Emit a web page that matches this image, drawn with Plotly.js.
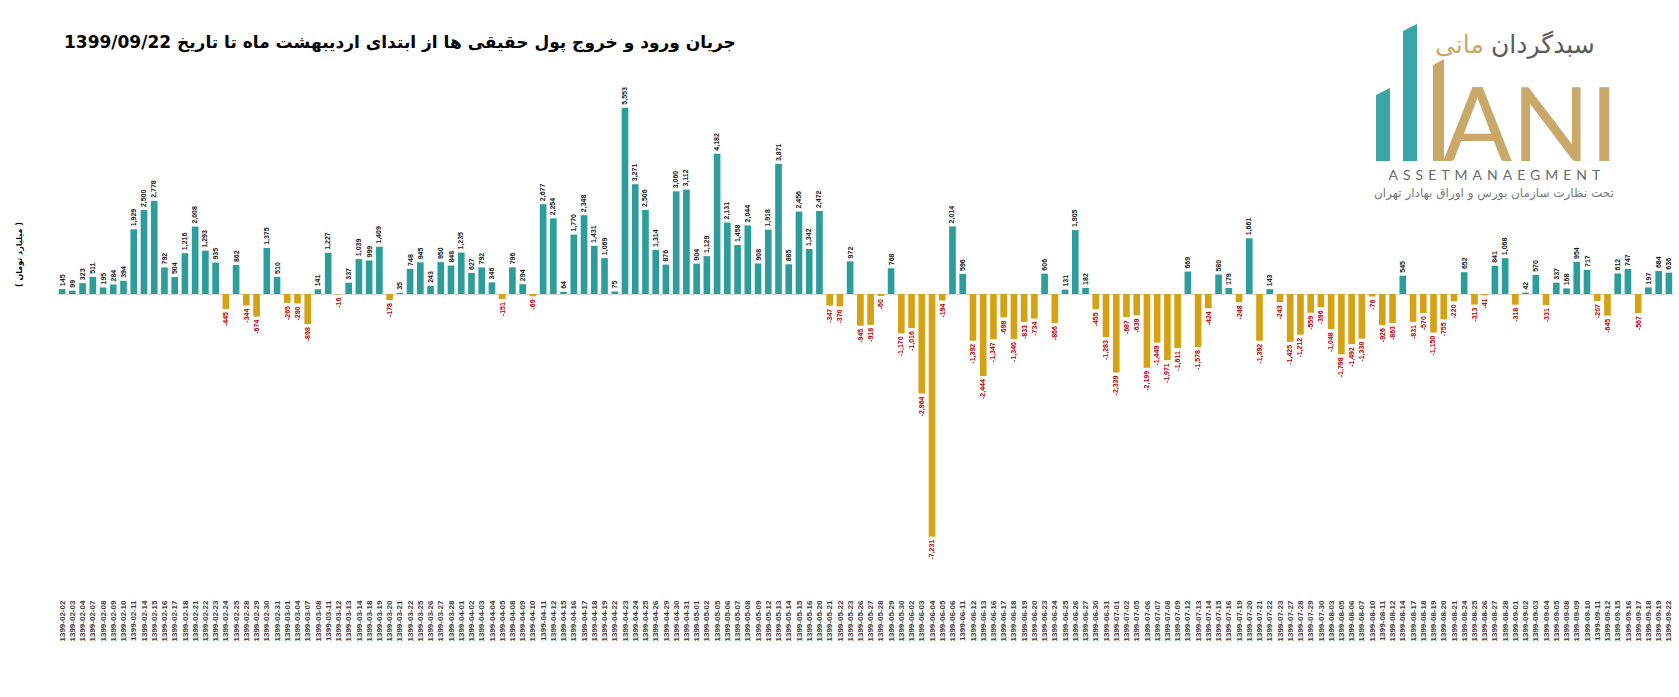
<!DOCTYPE html>
<html>
<head>
<meta charset="utf-8">
<script src="https://cdn.plot.ly/plotly-3.0.1.min.js"></script>
<style>
html, body { margin: 0; padding: 0; background: #fff; }
#chart { width: 1679px; height: 697px; }
g.annotation[data-index="4"] text.annotation-text { letter-spacing: 5px; }
</style>
</head>
<body>
<div id="chart"></div>
<script>
// trading days (1399) and net real-money flow, billion toman
const dates = [
  '1399-02-02','1399-02-03','1399-02-04','1399-02-07','1399-02-08','1399-02-09','1399-02-10','1399-02-11','1399-02-14','1399-02-15',
  '1399-02-16','1399-02-17','1399-02-18','1399-02-21','1399-02-22','1399-02-23','1399-02-24','1399-02-25','1399-02-28','1399-02-29',
  '1399-02-30','1399-02-31','1399-03-01','1399-03-04','1399-03-07','1399-03-08','1399-03-11','1399-03-12','1399-03-13','1399-03-14',
  '1399-03-18','1399-03-19','1399-03-20','1399-03-21','1399-03-22','1399-03-25','1399-03-26','1399-03-27','1399-03-28','1399-04-01',
  '1399-04-02','1399-04-03','1399-04-04','1399-04-05','1399-04-08','1399-04-09','1399-04-10','1399-04-11','1399-04-12','1399-04-15',
  '1399-04-16','1399-04-17','1399-04-18','1399-04-19','1399-04-22','1399-04-23','1399-04-24','1399-04-25','1399-04-26','1399-04-29',
  '1399-04-30','1399-04-31','1399-05-01','1399-05-02','1399-05-05','1399-05-06','1399-05-07','1399-05-08','1399-05-09','1399-05-12',
  '1399-05-13','1399-05-14','1399-05-15','1399-05-16','1399-05-20','1399-05-21','1399-05-22','1399-05-23','1399-05-26','1399-05-27',
  '1399-05-28','1399-05-29','1399-05-30','1399-06-02','1399-06-03','1399-06-04','1399-06-05','1399-06-06','1399-06-11','1399-06-12',
  '1399-06-13','1399-06-16','1399-06-17','1399-06-18','1399-06-19','1399-06-20','1399-06-23','1399-06-24','1399-06-25','1399-06-26',
  '1399-06-27','1399-06-30','1399-06-31','1399-07-01','1399-07-02','1399-07-05','1399-07-06','1399-07-07','1399-07-08','1399-07-09',
  '1399-07-12','1399-07-13','1399-07-14','1399-07-15','1399-07-16','1399-07-19','1399-07-20','1399-07-21','1399-07-22','1399-07-23',
  '1399-07-27','1399-07-28','1399-07-29','1399-07-30','1399-08-03','1399-08-05','1399-08-06','1399-08-07','1399-08-10','1399-08-11',
  '1399-08-12','1399-08-14','1399-08-17','1399-08-18','1399-08-19','1399-08-20','1399-08-21','1399-08-24','1399-08-25','1399-08-26',
  '1399-08-27','1399-08-28','1399-09-01','1399-09-02','1399-09-03','1399-09-04','1399-09-05','1399-09-08','1399-09-09','1399-09-10',
  '1399-09-11','1399-09-12','1399-09-15','1399-09-16','1399-09-17','1399-09-18','1399-09-19','1399-09-22'
];
const flows = [
  145, 99, 323, 511, 195, 284, 394, 1929, 2500, 2778,
  792, 504, 1216, 2008, 1293, 935, -445, 862, -344, -674,
  1375, 510, -265, -280, -898, 141, 1227, -16, 337, 1039,
  999, 1409, -178, 35, 748, 945, 243, 950, 848, 1235,
  627, 792, 346, -151, 796, 294, -69, 2677, 2254, 64,
  1770, 2348, 1431, 1069, 75, 5553, 3271, 2506, 1314, 876,
  3060, 3112, 904, 1129, 4182, 2131, 1458, 2044, 908, 1918,
  3871, 885, 2456, 1342, 2472, -347, -370, 972, -945, -918,
  -60, 768, -1170, -1016, -2964, -7231, -194, 2014, 596, -1392,
  -2444, -1347, -698, -1340, -833, -734, 606, -866, 131, 1905,
  182, -455, -1283, -2339, -687, -639, -2199, -1449, -1971, -1611,
  669, -1578, -424, 580, 179, -248, 1661, -1392, 143, -243,
  -1425, -1212, -559, -396, -1048, -1798, -1492, -1330, -76, -926,
  -863, 545, -831, -570, -1150, -755, -220, 652, -313, -41,
  841, 1068, -318, 42, 570, -331, 337, 168, 954, 717,
  -207, -645, 612, 747, -567, 197, 684, 636
];

const titleText = 'جریان ورود و خروج پول حقیقی ها از ابتدای اردیبهشت ماه تا تاریخ 1399/09/22';
const unitText = '( میلیارد تومان )';

const TEAL = '#2c9d9a', GOLD = '#d4a213';
const W = 1679, H = 697, L = 57, R = 5, T = 90, B = 99;
const pw = W - L - R, ph = H - T - B;
const px = v => (v - L) / pw;
const py = v => (H - B - v) / ph;
const perPx = 29.8, zeroY = 294;

const bars = {
    x: dates,
    y: flows,
    type: 'bar',
    marker: { color: flows.map(v => v >= 0 ? TEAL : GOLD) },
    text: flows.map(v => v.toLocaleString('en-US')),
    textposition: 'outside',
    textangle: -90,
    constraintext: 'none',
    cliponaxis: false,
    textfont: {
        family: 'Liberation Sans, Arial, sans-serif',
        size: 7,
        weight: 'bold',
        color: flows.map(v => v >= 0 ? '#1a1a1a' : '#c00000')
    },
    hoverinfo: 'x+y'
};

function slab(x0, x1, top, slant, color) {
    return {
        type: 'path', xref: 'paper', yref: 'paper',
        path: `M ${px(x0)},${py(161)} L ${px(x0)},${py(top + slant)} L ${px(x1)},${py(top)} L ${px(x1)},${py(161)} Z`,
        fillcolor: color, line: { width: 0 }
    };
}

function note(text, x, y, font, xanchor) {
    return {
        text: text, xref: 'paper', yref: 'paper', x: px(x), y: py(y),
        xanchor: xanchor || 'center', yanchor: 'middle', showarrow: false, font: font
    };
}

Plotly.newPlot('chart', [bars], {
    width: W, height: H,
    paper_bgcolor: '#ffffff',
    plot_bgcolor: '#ffffff',
    showlegend: false,
    bargap: 0.35,
    margin: { l: L, r: R, t: T, b: B, pad: 0 },
    title: {
        text: titleText,
        font: { family: 'DejaVu Sans, sans-serif', size: 17, weight: 'bold', color: '#000' },
        xref: 'container', yref: 'container',
        x: 64 / W, xanchor: 'left', y: 1 - 42 / H, yanchor: 'middle'
    },
    xaxis: {
        type: 'category',
        tickmode: 'array', tickvals: dates, ticktext: dates,
        tickangle: -90,
        tickfont: { family: 'Liberation Sans, Arial, sans-serif', size: 8, weight: 'bold', color: '#404040' },
        showline: false, showgrid: false, ticks: '', zeroline: false,
        range: [-0.5, dates.length - 0.5]
    },
    yaxis: {
        range: [-(H - B - zeroY) * perPx, (zeroY - T) * perPx],
        showticklabels: false, showgrid: false, showline: false, ticks: '',
        zeroline: true, zerolinecolor: '#d9d9d9', zerolinewidth: 1
    },
    shapes: [
        slab(1376, 1390, 88, 7, '#3ba5a5'),
        slab(1403, 1417, 24, 7, '#3ba5a5'),
        slab(1433, 1444, 59, 6, '#c9a86a')
    ],
    annotations: [
        note(unitText, 19, 255, { family: 'DejaVu Sans, sans-serif', size: 8, weight: 'bold', color: '#000' }),
        note('ANI', 1531, 121, { family: 'Liberation Sans Narrow, Lato, sans-serif', size: 102, color: '#c9a86a' }),
        note('سبدگردان', 1597, 45, { family: 'DejaVu Sans, sans-serif', size: 25, color: '#5a5a5a' }, 'right'),
        note('مانی', 1433, 45, { family: 'DejaVu Sans, sans-serif', size: 25, color: '#c9a86a' }, 'left'),
        note('ASSETMANAEGMENT', 1497, 174, { family: 'Lato, sans-serif', size: 14, color: '#6a6a6a' }),
        note('تحت نظارت سازمان بورس و اوراق بهادار تهران', 1494, 193, { family: 'DejaVu Sans, sans-serif', size: 12, color: '#7a7a7a' })
    ].map(a => { a.textangle = a.text === unitText ? -90 : 0; return a; })
}, { displayModeBar: false, staticPlot: true });
</script>
</body>
</html>
